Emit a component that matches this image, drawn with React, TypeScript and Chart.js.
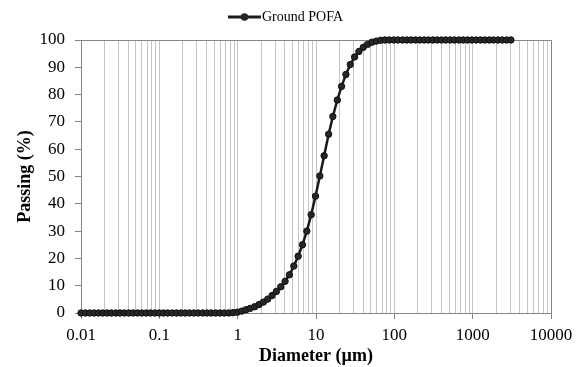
import React, { useEffect, useRef } from 'react';
import { Chart, registerables } from 'chart.js';

Chart.register(...registerables);

const seriesLabel = 'Ground POFA';

const diameters = [
  0.01, 0.0114, 0.0129, 0.0147, 0.0167, 0.0189, 0.0215, 0.0244, 0.0278, 0.0315,
  0.0358, 0.0407, 0.0463, 0.0526, 0.0597, 0.0679, 0.0771, 0.0876, 0.0995, 0.113,
  0.128, 0.146, 0.166, 0.188, 0.214, 0.243, 0.276, 0.314, 0.357, 0.405,
  0.46, 0.523, 0.594, 0.675, 0.767, 0.872, 0.991, 1.13, 1.28, 1.45,
  1.65, 1.88, 2.13, 2.42, 2.75, 3.12, 3.55, 4.03, 4.58, 5.21,
  5.92, 6.72, 7.64, 8.68, 9.86, 11.2, 12.7, 14.5, 16.4, 18.7,
  21.2, 24.1, 27.4, 31.1, 35.3, 40.1, 45.6, 51.8, 58.9, 66.9,
  76.0, 86.4, 98.1, 111, 127, 144, 163, 186, 211, 240,
  272, 310, 352, 400, 454, 516, 586, 666, 756, 859,
  976, 1110, 1260, 1430, 1630, 1850, 2100, 2390, 2710, 3080,
];

const passing = [
  0, 0, 0, 0, 0, 0, 0, 0, 0, 0,
  0, 0, 0, 0, 0, 0, 0, 0, 0, 0,
  0, 0, 0, 0, 0, 0, 0, 0, 0, 0,
  0, 0, 0, 0, 0.02, 0.1, 0.3, 0.7, 1.2, 1.7,
  2.3, 3.1, 4.0, 5.1, 6.4, 7.9, 9.6, 11.6, 14.0, 17.2,
  20.8, 25.0, 30.0, 36.0, 42.8, 50.2, 57.6, 65.5, 72.0, 78.0,
  83.0, 87.4, 91.0, 93.8, 95.8, 97.3, 98.4, 99.2, 99.6, 99.9,
  100, 100, 100, 100, 100, 100, 100, 100, 100, 100,
  100, 100, 100, 100, 100, 100, 100, 100, 100, 100,
  100, 100, 100, 100, 100, 100, 100, 100, 100, 100,
];

const xTickValues = [0.01, 0.1, 1, 10, 100, 1000, 10000];
const xTickLabels = ['0.01', '0.1', '1', '10', '100', '1000', '10000'];
const yMin = 0;
const yMax = 100;
const yStep = 10;

const xTitle = 'Diameter (µm)';
const yTitle = 'Passing (%)';

const SERIF = '"Liberation Serif", "Times New Roman", serif';
const AXIS_GREY = '#868686';
const GRID_GREY = '#c4c4c4';

function isDecade(v: number) {
  return xTickValues.some((t) => Math.abs(t - v) / t < 1e-6);
}

function makeLegendIcon(): HTMLCanvasElement {
  const c = document.createElement('canvas');
  c.width = 40;
  c.height = 10;
  const g = c.getContext('2d')!;
  g.strokeStyle = '#1a1a1a';
  g.lineWidth = 3;
  g.beginPath();
  g.moveTo(7, 5);
  g.lineTo(40, 5);
  g.stroke();
  g.fillStyle = '#262626';
  g.beginPath();
  g.arc(23.5, 5, 3.8, 0, Math.PI * 2);
  g.fill();
  return c;
}

const framePlugin = {
  id: 'frame',
  beforeDatasetsDraw(chart: any) {
    const { ctx, chartArea } = chart;
    ctx.save();
    ctx.strokeStyle = AXIS_GREY;
    ctx.lineWidth = 1;
    ctx.beginPath();
    ctx.moveTo(chartArea.left, chartArea.top + 0.5);
    ctx.lineTo(chartArea.right + 0.5, chartArea.top + 0.5);
    ctx.lineTo(chartArea.right + 0.5, chartArea.bottom);
    ctx.stroke();
    ctx.restore();
  },
};

export default function App() {
  const ref = useRef<HTMLCanvasElement | null>(null);

  useEffect(() => {
    document.body.style.margin = '0';
    const canvas = ref.current!;
    const icon = makeLegendIcon();

    const chart = new Chart(canvas, {
      type: 'line',
      data: {
        datasets: [
          {
            label: seriesLabel,
            data: diameters.map((d, i) => ({ x: d, y: passing[i] })),
            xAxisID: 'x',
            yAxisID: 'y',
            borderColor: '#1a1a1a',
            borderWidth: 2.5,
            backgroundColor: '#262626',
            pointBackgroundColor: '#262626',
            pointBorderColor: '#111111',
            pointBorderWidth: 1,
            pointRadius: 3.2,
            tension: 0,
            clip: false as any,
          },
        ],
      },
      options: {
        animation: false,
        responsive: false,
        maintainAspectRatio: false,
        layout: { padding: { left: 19, right: 28, top: 0, bottom: 0 } },
        plugins: {
          tooltip: { enabled: false },
          legend: {
            display: true,
            position: 'top',
            labels: {
              usePointStyle: true,
              pointStyle: icon as any,
              pointStyleWidth: 28,
              padding: 10,
              color: '#000',
              font: { family: SERIF, size: 14 },
            },
          },
        },
        scales: {
          x: {
            type: 'logarithmic',
            position: 'bottom',
            min: 0.01,
            max: 10000,
            afterBuildTicks: (scale: any) => {
              const ticks: { value: number }[] = [];
              for (let e = -2; e <= 3; e++) {
                for (let m = 1; m <= 9; m++) {
                  ticks.push({ value: Number((m * Math.pow(10, e)).toPrecision(6)) });
                }
              }
              ticks.push({ value: 10000 });
              scale.ticks = ticks;
            },
            afterFit: (s: any) => {
              s.height = 54;
            },
            grid: {
              display: true,
              color: GRID_GREY,
              lineWidth: 1,
              drawTicks: true,
              tickLength: 6,
              tickColor: (ctx: any) => (ctx.tick && isDecade(ctx.tick.value) ? AXIS_GREY : 'rgba(0,0,0,0)'),
            },
            border: { display: true, color: AXIS_GREY, width: 1 },
            ticks: {
              autoSkip: false,
              maxRotation: 0,
              minRotation: 0,
              padding: 6,
              color: '#000',
              font: { family: SERIF, size: 17 },
              callback: (v: any) => {
                const idx = xTickValues.findIndex((t) => Math.abs(t - Number(v)) / t < 1e-6);
                return idx >= 0 ? xTickLabels[idx] : '';
              },
            },
            title: {
              display: true,
              text: xTitle,
              color: '#000',
              font: { family: SERIF, size: 18, weight: 'bold' },
              padding: { top: -1.5, bottom: 0 },
            },
          },
          spacer: {
            type: 'linear',
            position: 'top',
            display: true,
            grid: { display: false },
            border: { display: false },
            ticks: { display: false },
            afterFit: (s: any) => {
              s.height = 6;
            },
          },
          y: {
            type: 'linear',
            position: 'left',
            min: yMin,
            max: yMax,
            afterFit: (s: any) => {
              s.width = 62;
            },
            grid: {
              display: true,
              drawOnChartArea: false,
              drawTicks: true,
              tickLength: 6,
              tickColor: AXIS_GREY,
            },
            border: { display: true, color: AXIS_GREY, width: 1 },
            ticks: {
              stepSize: yStep,
              padding: 10,
              color: '#000',
              font: { family: SERIF, size: 17 },
            },
            title: {
              display: true,
              text: yTitle,
              color: '#000',
              font: { family: SERIF, size: 18, weight: 'bold' },
              padding: { top: -4.5, bottom: 0 },
            },
          },
        },
      },
      plugins: [framePlugin],
    } as any);

    return () => {
      chart.destroy();
    };
  }, []);

  return (
    <div style={{ width: 579, height: 367 }}>
      <canvas ref={ref} width={579} height={367} style={{ display: 'block', width: 579, height: 367 }} />
    </div>
  );
}
